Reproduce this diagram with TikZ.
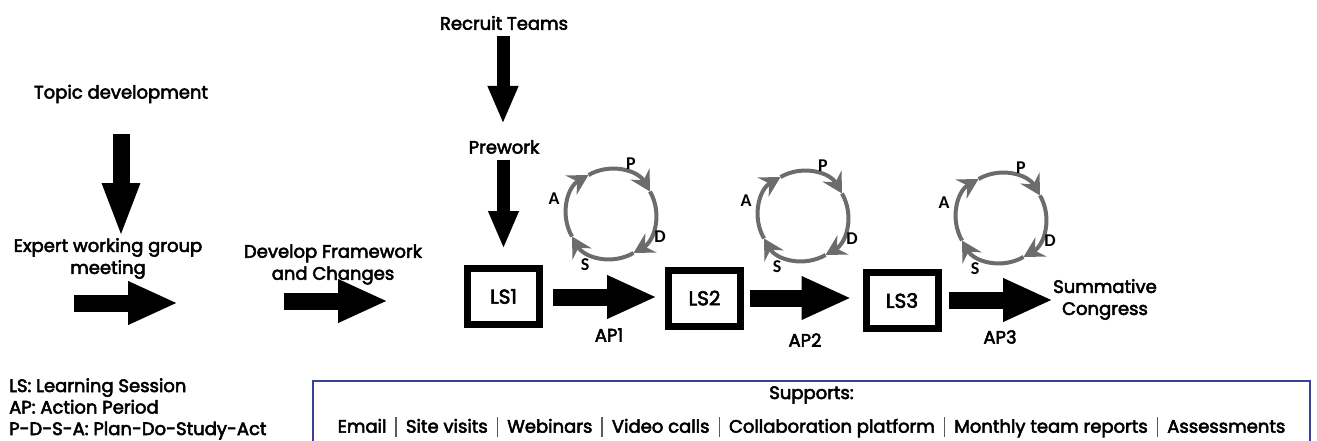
\documentclass[tikz,border=0pt]{standalone}
\usepackage{fontspec}
\setmainfont{Poppins}[FakeBold=3]
\newfontfamily\pdsafont{Carlito}
\usetikzlibrary{
	arrows.meta,
	calc
}
\definecolor{cyclegray}{RGB}{108,108,108}
\definecolor{supblue}{RGB}{58,66,150}
\definecolor{sepgray}{RGB}{90,90,90}
\newcommand{\supsep}{\hspace{9pt}\textcolor{sepgray}{\rule[-4pt]{1.5pt}{20pt}}\hspace{9pt}}
\tikzset{
	lbl/.style={
		font=\fontsize{18}{22}\selectfont,
		align=center,
		inner sep=0pt
	},
	lsbox/.style={
		draw,
		line width=7pt,
		minimum width=72pt,
		minimum height=56pt,
		inner sep=0pt,
		font=\fontsize{20}{22}\selectfont
	},
	bigarrow/.style={
		line width=17pt,
		-{Triangle[width=40pt,length=50pt]}
	},
	droparrow/.style={
		line width=13pt,
		-{Triangle[width=28pt,length=38pt]}
	},
	pdsa/.style={
		draw=cyclegray,
		line width=4pt,
		-{Stealth[length=20pt,width=22pt,inset=7pt]}
	},
	pdsalbl/.style={
		font=\pdsafont\bfseries\fontsize{18}{18}\selectfont,
		inner sep=0pt
	}
}
\begin{document}
\begin{tikzpicture}[x=1pt,y=1pt]
	\useasboundingbox (0,0) rectangle (1317,-441);
	\clip (0,0) rectangle (1317,-441);
	% left part
	\node[lbl] (topic) at (121,-94) {Topic development};
	\node[lbl] (expert) at (108,-258.5) {Expert working group\\meeting};
	\node[lbl] (develop) at (333,-264.5) {Develop Framework\\and Changes};
	\draw[bigarrow, line width=17pt, -{Triangle[width=34pt,length=55pt]}]
		(topic.south) ++(0,-31) coordinate (t1) -- (t1 |- 0,-238) coordinate (t2);
	\coordinate (ew1) at (74,-303);
	\coordinate (ew2) at (178,-303);
	\draw[bigarrow] (ew1) -- (ew2);
	\coordinate (dw1) at (284,-301);
	\coordinate (dw2) at (388,-301);
	\draw[bigarrow] (dw1) -- (dw2);
	% recruitment and sessions
	\node[lbl] (recruit) at (504,-23) {Recruit Teams};
	\node[lbl] (prework) at (504,-147) {Prework};
	\node[lsbox] (ls1) at (503.5,-296.5) {LS1};
	\node[lsbox] (ls2) at (704.5,-298) {LS2};
	\node[lsbox] (ls3) at (902,-300.5) {LS3};
	\node[lbl, align=center] (summ) at (1105,-299.5) {Summative\\Congress};
	\draw[droparrow] (recruit.south) ++(-1,-6) coordinate (r1) -- (r1 |- 0,-124) coordinate (r2);
	\draw[droparrow, shorten <=6pt, shorten >=16pt] (prework.south -| ls1.north) -- (ls1.north);
	\draw[bigarrow, shorten <=10pt, shorten >=8pt] (ls1.east |- 0,-297) -- (ls2.west |- 0,-297);
	\draw[bigarrow, shorten <=6pt, shorten >=11pt] (ls2.east |- 0,-298) -- (ls3.west |- 0,-298);
	\draw[bigarrow, shorten <=7pt] (ls3.east |- 0,-300) -- (summ.west |- 0,-300);
	\node[lbl] (ap1) at (609,-335) {AP1};
	\node[lbl] (ap2) at (805,-340) {AP2};
	\node[lbl] (ap3) at (1000,-337) {AP3};
	% P-D-S-A cycles
	\foreach \cx/\cy [count=\i] in {611/214, 803/216, 1001/218}{
		\begin{scope}[shift={(\cx,-\cy)}]
			\draw[pdsa] (120:45pt) arc[start angle=120, end angle=30, radius=45pt];
			\draw[pdsa] (30:45pt) arc[start angle=30, end angle=-60, radius=45pt];
			\draw[pdsa] (-60:45pt) arc[start angle=-60, end angle=-150, radius=45pt];
			\draw[pdsa] (-150:45pt) arc[start angle=-150, end angle=-240, radius=45pt];
			\node[pdsalbl] (p\i) at (20,50) {P};
			\node[pdsalbl] (d\i) at (49,-23) {D};
			\node[pdsalbl] (s\i) at (-26,-51) {S};
			\node[pdsalbl] (a\i) at (-57,15) {A};
		\end{scope}
	}
	% legend and supports
	\node[lbl, align=left, anchor=west, font=\fontsize{18}{21.5}\selectfont] (legend) at (9,-409)
		{LS: Learning Session\\AP: Action Period\\P-D-S-A: Plan-Do-Study-Act};
	\node[draw=supblue, line width=2pt, minimum width=997pt, minimum height=90pt,
		anchor=north, inner sep=0pt] (supports) at (811.5,-380) {};
	\node[lbl] (suptitle) at (811.5,-395) {Supports:};
	\node[lbl] (suplist) at (811.5,-427) {Email\supsep Site visits\supsep Webinars\supsep Video calls\supsep Collaboration platform\supsep Monthly team reports\supsep Assessments};
\end{tikzpicture}
\end{document}
